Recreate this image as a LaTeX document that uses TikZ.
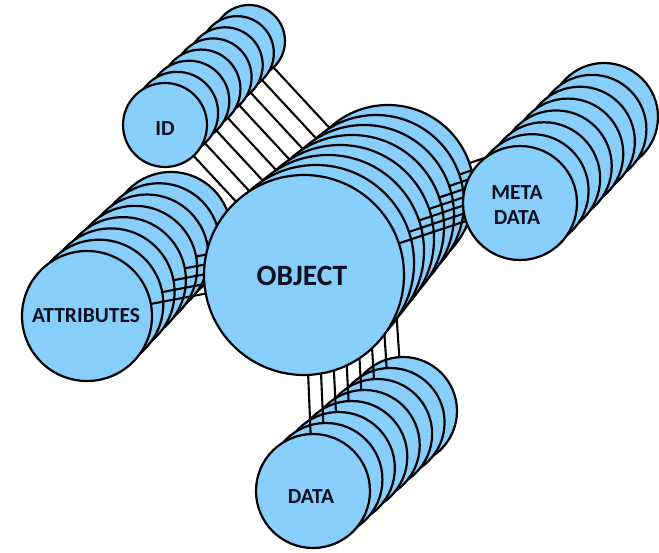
\documentclass[tikz,border=0pt]{standalone}
\usepackage{fontspec}
\setmainfont{Carlito}
\definecolor{discblue}{RGB}{135,206,250}
\definecolor{labelink}{RGB}{12,16,32}
\tikzset{
  disc/.style={circle, draw=black, line width=2.2pt, fill=discblue, inner sep=0pt, outer sep=0pt},
  link/.style={line width=2.1pt, draw=black},
  lbl/.style={text=labelink, font=\fontsize{21.5}{25}\selectfont\bfseries, align=center, inner sep=0pt},
  biglbl/.style={lbl, font=\fontsize{29.5}{34}\selectfont\bfseries}
}
\begin{document}
\begin{tikzpicture}[x=1pt,y=-1pt]
\useasboundingbox (0,0) rectangle (659,553);
% eight layers, drawn from the back (k=0) to the front (k=7)
\foreach \k in {0,...,7}{
  \pgfmathsetmacro\t{\k/7}
  % name / front centre and radius / back centre and radius
  \foreach \nm/\fx/\fy/\fr/\bx/\by/\br in {
      id/165/125/42/249/41/36,
      obj/304/275/100/388/191/86,
      att/87/316/65/171/232/60,
      met/520/203/57/604/117/54,
      dat/313/491/57/403/411/54}{
    \pgfmathsetmacro\cx{\bx+\t*(\fx-\bx)}
    \pgfmathsetmacro\cy{\by+\t*(\fy-\by)}
    \pgfmathsetmacro\rr{\br+\t*(\fr-\br)}
    \node[disc, minimum size=2*\rr pt] (\nm-\k) at (\cx,\cy) {};
  }
  % links of this layer, from each satellite disc to the object disc
  \foreach \a in {id,att,met,dat}{
    \draw[link] (\a-\k) -- (obj-\k);
  }
}
\node[lbl] (lid) at (165,129) {ID};
\node[biglbl] (lobj) at (302,276) {OBJECT};
\node[lbl] (latt) at (86,316) {ATTRIBUTES};
\node[lbl] (lmet) at (517,205) {META\\DATA};
\node[lbl] (ldat) at (311,497) {DATA};
\end{tikzpicture}
\end{document}
